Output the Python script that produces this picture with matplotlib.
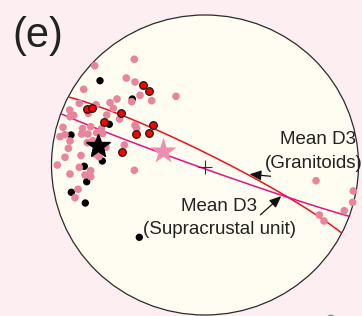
import numpy as np
import matplotlib
matplotlib.use("Agg")
import matplotlib.pyplot as plt
from matplotlib.patches import Ellipse

# ---- data (pixel positions) ----
pink_x = [134.3, 94.7, 126.3, 135.0, 83.7, 176.0, 151.7, 140.0, 131.7, 117.0, 110.0, 96.0,
          79.3, 69.7, 73.7, 70.0, 88.3, 113.3, 106.7, 119.5, 135.0, 136.7, 63.0, 82.5,
          90.7, 101.5, 102.5, 88.0, 96.7, 60.0, 65.0, 70.0, 81.7, 92.7, 87.3, 68.3,
          65.0, 57.3, 81.0, 95.0, 99.0, 106.0, 124.3, 134.3, 70.0, 79.3, 90.7, 85.0,
          90.7, 78.0, 75.0, 316.0, 353.3, 352.7, 344.3, 319.3, 324.0]
pink_y = [59.3, 65.7, 78.0, 82.0, 89.3, 96.3, 100.7, 95.3, 101.7, 99.0, 102.7, 104.7,
          103.3, 110.0, 115.3, 116.7, 113.3, 108.3, 115.0, 119.0, 125.3, 128.3, 127.3, 128.5,
          126.7, 128.5, 133.5, 134.0, 132.7, 136.7, 134.7, 141.0, 134.0, 140.7, 142.7, 148.3,
          157.3, 165.0, 155.5, 154.0, 156.7, 147.3, 145.0, 170.3, 174.0, 167.3, 170.7, 175.0,
          176.7, 189.3, 197.7, 180.7, 191.0, 202.3, 210.7, 215.0, 221.0]

black_x = [100.0, 132.3, 109.3, 71.0, 102.3, 84.3, 86.7, 71.3, 85.3, 139.3]
black_y = [80.7, 99.0, 124.3, 135.0, 161.0, 166.3, 181.7, 192.3, 203.0, 237.3]

red_x = [142.7, 149.3, 87.3, 91.7, 121.0, 104.0, 153.3, 136.0, 149.0, 122.3]
red_y = [85.3, 91.0, 109.0, 107.7, 113.3, 122.3, 125.3, 134.3, 133.0, 151.7]

star_black = (98.3, 146.0)
star_pink = (163.0, 150.5)
center_plus = (205.0, 166.5)

# mean D3 planes (strike, dip) - granitoids (red), supracrustal (magenta)
plane_names = ["Granitoids", "Supracrustal unit"]
plane_strike = [297.0, 110.0]
plane_dip = [84.0, 88.0]
plane_colors = ["#e8141c", "#e6127e"]

# ---- figure ----
W, H = 362, 316
fig = plt.figure(figsize=(W / 100, H / 100), dpi=100)
fig.patch.set_facecolor("#fdeef1")
ax = fig.add_axes([0, 0, 1, 1])
ax.set_xlim(0, W)
ax.set_ylim(H, 0)
ax.axis("off")
ax.set_facecolor("#fdeef1")

cx, cy, a, b = 205.0, 165.0, 153.5, 150.0
net = Ellipse((cx, cy), 2 * a, 2 * b, facecolor="#fffcf2", edgecolor="#2b2b2b", lw=0.9, zorder=1)
ax.add_patch(net)


def great_circle(strike, dip, n=200):
    s = np.radians(strike)
    dd = np.radians(strike + 90)
    d = np.radians(dip)
    sv = np.array([np.sin(s), np.cos(s), 0.0])
    dv = np.array([np.sin(dd) * np.cos(d), np.cos(dd) * np.cos(d), np.sin(d)])
    t = np.linspace(0, np.pi, n)
    v = np.outer(np.cos(t), sv) + np.outer(np.sin(t), dv)
    plunge = np.arcsin(np.clip(v[:, 2], -1, 1))
    trend = np.arctan2(v[:, 0], v[:, 1])
    r = np.sqrt(2) * np.sin((np.pi / 2 - plunge) / 2)
    x = r * np.sin(trend)
    y = r * np.cos(trend)
    return cx + x * a, cy - y * b


for st, dp, col in zip(plane_strike, plane_dip, plane_colors):
    gx, gy = great_circle(st, dp)
    ax.plot(gx, gy, color=col, lw=1.1, zorder=2, clip_path=net)

ax.scatter(black_x, black_y, s=28, c="black", edgecolors="none", zorder=3)
ax.scatter(pink_x, pink_y, s=30, c="#e8849c", edgecolors="none", zorder=4)
ax.scatter(red_x, red_y, s=30, c="#ff0000", edgecolors="#1a1a1a", linewidths=0.9, zorder=5)
ax.plot(*star_black, marker="*", ms=18, color="black", mec="black", zorder=6)
ax.plot(*star_pink, marker="*", ms=20, color="#f08cae", mec="none", zorder=6)
ax.plot(*center_plus, marker="+", ms=10, mew=0.8, color="#333333", zorder=6)

# gray dot at the bottom edge
ax.scatter([331.0], [319.0], s=40, c="#888888", edgecolors="none", zorder=6, clip_on=True)

font = "Liberation Sans"
tc = "#222222"
ax.text(38, 36, "(e)", fontsize=30, family=font, color=tc, ha="center", va="center")

ax.text(317.5, 140, "Mean D3", fontsize=13.5, family=font, color=tc, ha="center", va="center", zorder=7)
ax.text(314, 163.5, "(Granitoids)", fontsize=13.5, family=font, color=tc, ha="center", va="center", zorder=7)
ax.text(219, 206.5, "Mean D3", fontsize=13.5, family=font, color=tc, ha="center", va="center", zorder=7)
ax.text(219.5, 230, "(Supracrustal unit)", fontsize=13.5, family=font, color=tc, ha="center", va="center", zorder=7)

arrow_kw = dict(arrowstyle="-|>,head_length=0.7,head_width=0.3", color="#111111", lw=0.9)
ax.annotate("", xy=(246.7, 174.0), xytext=(273.3, 176.5), arrowprops=arrow_kw, zorder=7)
ax.annotate("", xy=(283.3, 194.3), xytext=(258.3, 216.7), arrowprops=arrow_kw, zorder=7)

fig.savefig("out.png", dpi=100, facecolor=fig.get_facecolor())
